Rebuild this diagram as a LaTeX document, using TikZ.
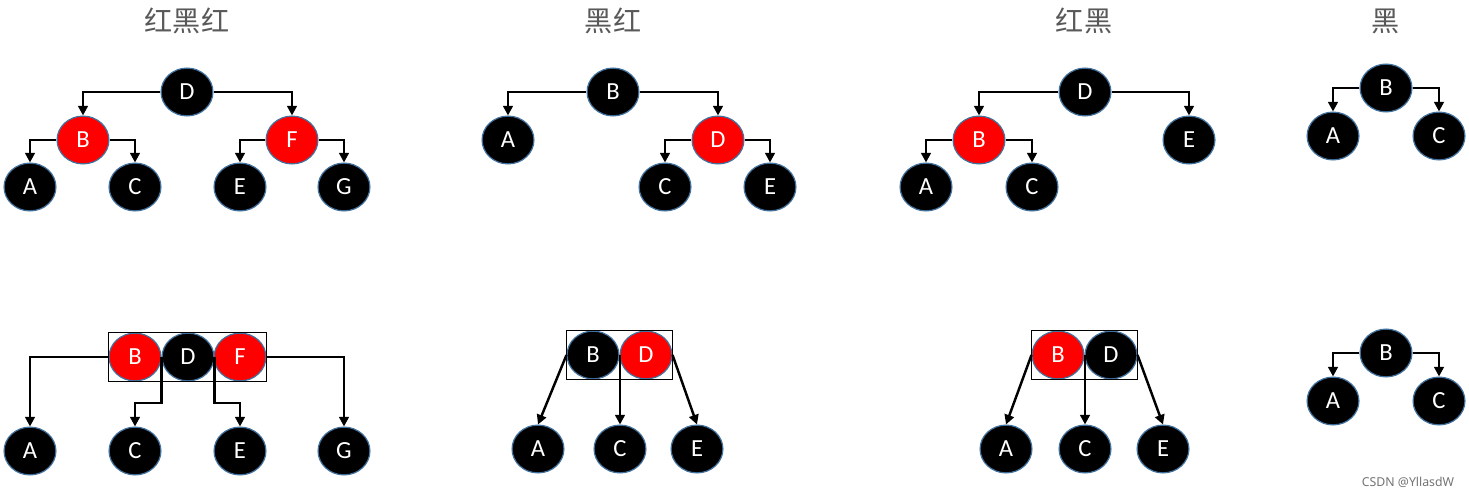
\documentclass[tikz,border=0pt]{standalone}
\usepackage{fontspec}
\setsansfont{Carlito}
\newfontfamily\cjk{Noto Sans CJK SC}
\newfontfamily\marksans{Noto Sans}
\usetikzlibrary{arrows.meta,fit,shapes.geometric}
\definecolor{nodeline}{HTML}{41719C}
\definecolor{titlegray}{HTML}{595959}
\begin{document}
\begin{tikzpicture}[x=0.02cm, y=-0.02cm, line width=1.4pt]
			\tikzstyle{vertex}  = [ellipse, minimum width=29.5pt, minimum height=27.2pt, inner sep=0pt, draw=nodeline, line width=0.7pt, text=white, font=\sffamily\fontsize{14}{14}\selectfont]
			\tikzstyle{vertexK} = [vertex, fill=black]
			\tikzstyle{vertexR} = [vertex, fill=red]
			\tikzstyle{arr}     = [-{Triangle[length=5.5pt,width=5.5pt]}, black]
			\tikzstyle{title}   = [font=\cjk\fontsize{16}{16}\selectfont, text=titlegray]
			\tikzstyle{group}   = [draw=black, line width=0.7pt, inner sep=0pt]

			\useasboundingbox (0,0) rectangle (1469,497);

			% titles
			\foreach \nm/\x/\lab in {t1/187/红黑红, t2/613/黑红, t3/1084/红黑, t4/1386/黑}
				\node[title] (\nm) at (\x, 21) {\lab};

			% top row: trees
			\foreach \lab/\i/\x/\y/\styl in {D/1/187/92/K, B/1/83/140/R, F/1/292/140/R, A/1/30/187/K, C/1/135/187/K, E/1/240/187/K, G/1/344/187/K,
				B/2/613/92/K, A/2/508/140/K, D/2/718/140/R, C/2/665/187/K, E/2/770/187/K,
				D/3/1085/92/K, B/3/979/140/R, E/3/1189/140/K, A/3/926/187/K, C/3/1032/187/K,
				B/4/1386/88/K, A/4/1333/136/K, C/4/1439/136/K}
				\node[vertex\styl] (\lab\i) at (\x, \y) {\lab};

			% bottom row: 2-3-4 nodes
			\foreach \lab/\i/\x/\y/\styl in {B/5/135/357/R, D/5/188/357/K, F/5/240/357/R, A/5/30/451/K, C/5/135/451/K, E/5/240/451/K, G/5/344/451/K,
				B/6/593/355/K, D/6/646/355/R, A/6/538/449/K, C/6/620/449/K, E/6/697/449/K,
				B/7/1058/355/R, D/7/1111/355/K, A/7/1006/449/K, C/7/1085/449/K, E/7/1163/449/K,
				B/8/1386/353/K, A/8/1333/401/K, C/8/1439/401/K}
				\node[vertex\styl] (\lab\i) at (\x, \y) {\lab};

			\node[group, fit=(B5)(F5)] (box5) {};
			\node[group, fit=(B6)(D6)] (box6) {};
			\node[group, fit=(B7)(D7)] (box7) {};

			\foreach \from/\side/\to in {D1/west/B1, D1/east/F1, B1/west/A1, B1/east/C1, F1/west/E1, F1/east/G1,
				B2/west/A2, B2/east/D2, D2/west/C2, D2/east/E2,
				D3/west/B3, D3/east/E3, B3/west/A3, B3/east/C3,
				B4/west/A4, B4/east/C4, B8/west/A8, B8/east/C8,
				B5/west/A5, F5/east/G5}
				\draw[arr] (\from.\side) -| (\to.north);

			\draw[arr] (D5.west) -- ++(0,46) -| (C5.north);
			\draw[arr] (D5.east) -- ++(0,46) -| (E5.north);

			\foreach \i in {6,7}{
				\draw[arr] (B\i.west) -- (A\i.north);
				\draw[arr] (C\i.north |- B\i.east) -- (C\i.north);
				\draw[arr] (D\i.east) -- (E\i.north);
			}

			\node[font=\marksans\fontsize{7}{7}\selectfont, text=black!55] (mark) at (1408, 482) {CSDN @YllasdW};
		\end{tikzpicture}
\end{document}
